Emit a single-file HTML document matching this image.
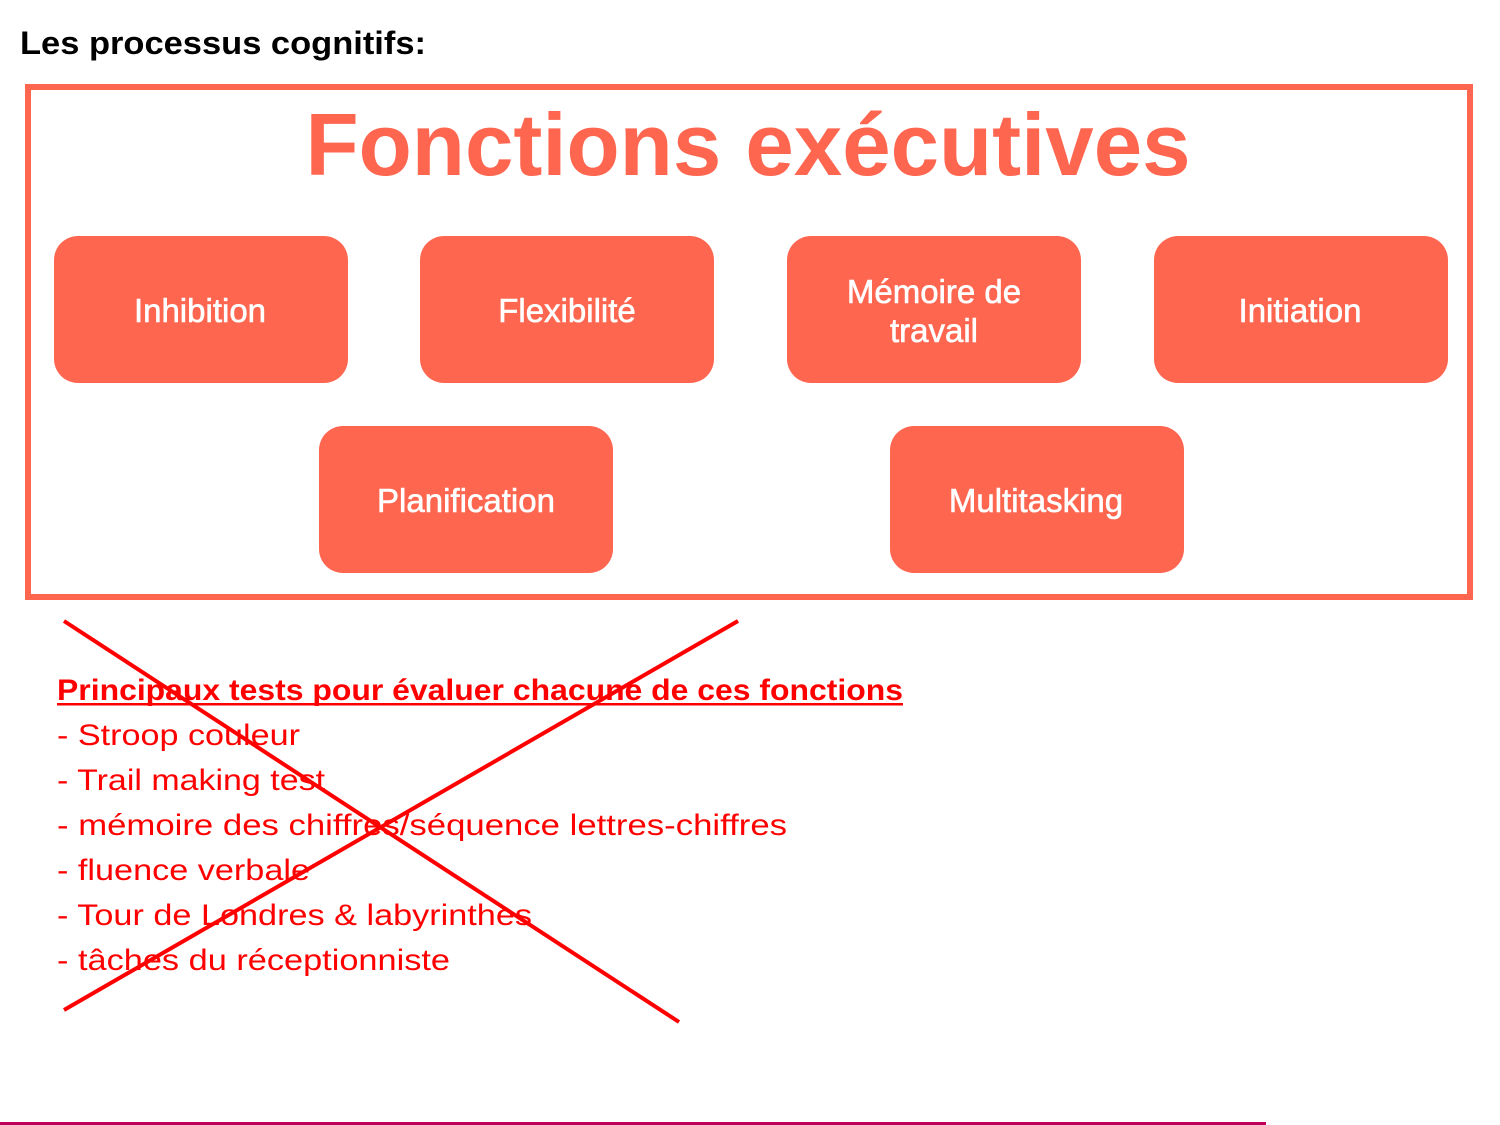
<!DOCTYPE html>
<html><head><meta charset="utf-8"><style>
html,body{margin:0;padding:0;background:#fff;}
svg{display:block;}
</style></head><body>
<svg width="1500" height="1125" viewBox="0 0 1500 1125" xmlns="http://www.w3.org/2000/svg">
<text x="20" y="54" font-family="Liberation Sans, sans-serif" font-weight="bold" font-size="32" fill="#000" textLength="406" lengthAdjust="spacingAndGlyphs">Les processus cognitifs:</text>
<rect x="28" y="87" width="1442" height="510" fill="none" stroke="#FF6650" stroke-width="6"/>
<text x="748" y="175" text-anchor="middle" font-family="Liberation Sans, sans-serif" font-weight="bold" font-size="88" fill="#FF6650" textLength="885" lengthAdjust="spacingAndGlyphs">Fonctions exécutives</text>
<g fill="#FF6650">
<rect x="54" y="236" width="294" height="147" rx="24"/>
<rect x="420" y="236" width="294" height="147" rx="24"/>
<rect x="787" y="236" width="294" height="147" rx="24"/>
<rect x="1154" y="236" width="294" height="147" rx="24"/>
<rect x="319" y="426" width="294" height="147" rx="24"/>
<rect x="890" y="426" width="294" height="147" rx="24"/>
</g>
<g font-family="Liberation Sans, sans-serif" font-size="33" fill="#fff" stroke="#fff" stroke-width="0.6" text-anchor="middle">
<text x="200" y="322">Inhibition</text>
<text x="567" y="322">Flexibilité</text>
<text x="934" y="303">Mémoire de</text>
<text x="934" y="342">travail</text>
<text x="1300" y="322">Initiation</text>
<text x="466" y="512">Planification</text>
<text x="1036" y="512">Multitasking</text>
</g>
<g font-family="Liberation Sans, sans-serif" font-size="30" fill="#FF0000">
<text x="57" y="700" font-weight="bold" textLength="846" lengthAdjust="spacingAndGlyphs">Principaux tests pour évaluer chacune de ces fonctions</text>
<rect x="57" y="703" width="846" height="2.5" fill="#FF0000"/>
<text x="57" y="745" textLength="243" lengthAdjust="spacingAndGlyphs">- Stroop couleur</text>
<text x="57" y="790" textLength="268" lengthAdjust="spacingAndGlyphs">- Trail making test</text>
<text x="57" y="835" textLength="730" lengthAdjust="spacingAndGlyphs">- mémoire des chiffres/séquence lettres-chiffres</text>
<text x="57" y="880" textLength="253" lengthAdjust="spacingAndGlyphs">- fluence verbale</text>
<text x="57" y="925" textLength="475" lengthAdjust="spacingAndGlyphs">- Tour de Londres &amp; labyrinthes</text>
<text x="57" y="970" textLength="393" lengthAdjust="spacingAndGlyphs">- tâches du réceptionniste</text>
</g>
<line x1="64" y1="621" x2="679" y2="1022" stroke="#FF0000" stroke-width="4"/>
<line x1="738" y1="621" x2="64" y2="1010" stroke="#FF0000" stroke-width="4"/>
<rect x="0" y="1122" width="1266" height="3" fill="#C0005A"/>
</svg>
</body></html>
